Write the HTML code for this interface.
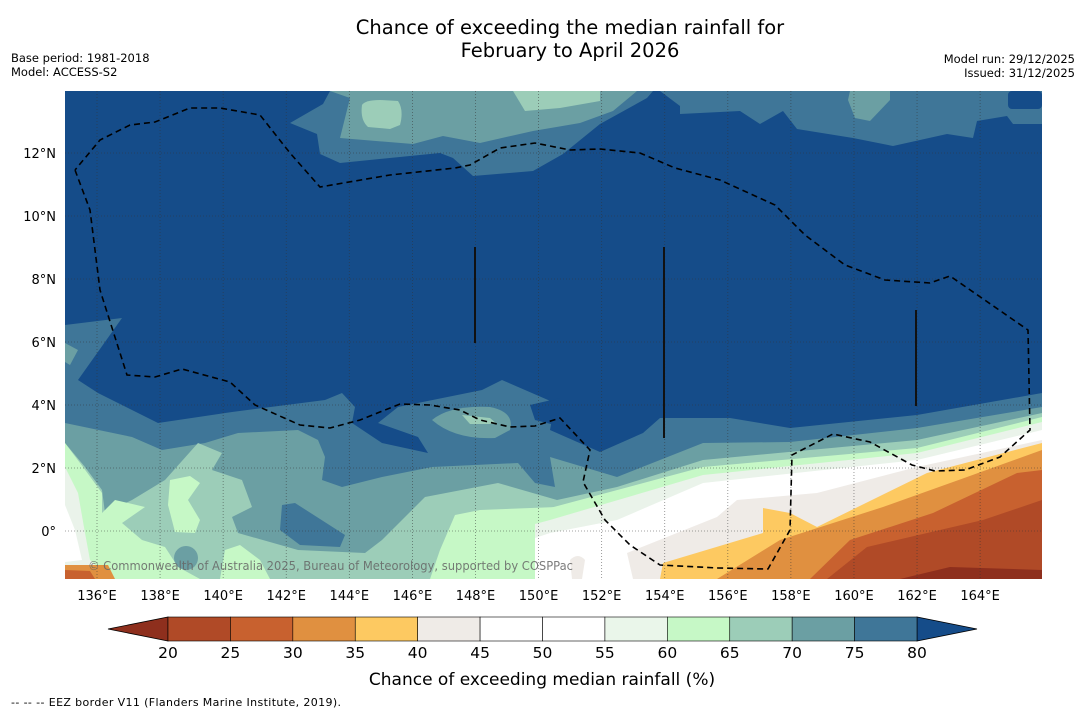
<!DOCTYPE html>
<html><head><meta charset="utf-8">
<style>
body{margin:0;background:#fff;font-family:"Liberation Sans",sans-serif;}
svg{display:block}
text{font-family:"DejaVu Sans","Liberation Sans",sans-serif;}
</style></head>
<body>
<svg id="chart" width="1085" height="713" viewBox="0 0 1085 713">
<text x="570" y="34" text-anchor="middle" font-size="19.5">Chance of exceeding the median rainfall for</text>
<text x="570" y="57" text-anchor="middle" font-size="19.5">February to April 2026</text>
<text x="11" y="62" font-size="11.5">Base period: 1981-2018</text>
<text x="11" y="76" font-size="11.5">Model: ACCESS-S2</text>
<text x="1075" y="63" font-size="11.5" text-anchor="end">Model run: 29/12/2025</text>
<text x="1075" y="77" font-size="11.5" text-anchor="end">Issued: 31/12/2025</text>
<defs><clipPath id="mapclip"><rect x="65" y="91" width="977" height="488"/></clipPath></defs>
<g id="map" clip-path="url(#mapclip)">
<rect x="65" y="91" width="977" height="488" fill="#154c89"/>
<path fill="#3f7698" d="M330,91 L323,104 290,123 317,134 320,154 340,163 440,153 453,158 473,176 533,171 563,154 600,124 647,98 653,91 660,91 680,106 680,114 740,111 760,124 783,111 797,129 853,138 893,146 947,134 973,138 977,121 1007,116 1013,124 1042,124 1042,91 Z"/>
<rect x="1008" y="91" width="34" height="18" rx="4" fill="#154c89"/>
<path fill="#6b9fa3" d="M330,91 L350,98 340,138 413,144 443,136 480,143 533,131 580,123 613,111 637,91 Z"/>
<path fill="#6b9fa3" d="M850,91 L890,91 890,100 870,121 855,118 848,100 Z"/>
<path fill="#9ccdb8" d="M362,105 Q365,100 380,100 L398,101 Q404,110 400,125 L390,129 368,127 Q360,120 362,105 Z"/>
<path fill="#9ccdb8" d="M513,91 L600,91 600,101 560,108 525,111 Z"/>
<path fill="#3f7698" d="M65,325 L122,318 78,380 98,393 158,423 232,412 325,400 342,393 355,407 352,423 382,443 428,453 418,437 378,423 398,407 482,390 502,380 555,403 550,430 600,452 643,433 660,418 730,418 790,428 917,415 1042,393 1042,579 65,579 Z"/>
<path fill="#154c89" d="M530,405 L560,398 570,415 555,425 535,420 Z"/>
<path fill="#6b9fa3" d="M65,343 L78,350 70,365 65,362 Z"/>
<path fill="#6b9fa3" d="M65,423 L132,437 162,450 205,443 238,433 298,430 318,440 325,457 322,480 342,487 382,477 432,467 518,463 535,483 555,487 550,457 617,477 703,443 790,442 917,428 1042,407 1042,579 65,579 Z"/>
<path fill="#6b9fa3" d="M432,420 Q450,405 490,407 Q515,412 510,430 L495,438 Q455,440 432,420 Z"/>
<path fill="#9ccdb8" d="M462,415 L490,418 497,424 470,424 Z"/>
<path fill="#9ccdb8" d="M65,443 L85,467 102,490 105,513 132,500 165,480 198,443 222,453 212,470 242,480 252,507 232,517 238,533 298,550 365,553 382,540 425,497 498,483 557,500 617,487 703,460 917,440 1042,413 1042,579 65,579 Z"/>
<path fill="#3f7698" d="M282,505 L295,503 345,535 340,547 300,545 280,530 Z"/>
<circle cx="186" cy="558" r="12" fill="#6b9fa3"/>
<path fill="#c6f8c6" d="M170,480 L190,476 200,483 188,500 200,520 195,533 175,532 168,505 Z"/>
<path fill="#c6f8c6" d="M65,443 L83,467 102,493 102,513 115,500 145,507 122,523 142,540 165,547 178,567 200,579 65,579 Z"/>
<path fill="#c6f8c6" d="M225,550 L240,545 260,560 270,579 220,579 Z"/>
<path fill="#c6f8c6" d="M455,515 L480,510 557,507 557,579 430,579 440,550 Z"/>
<path fill="#eaf3ea" d="M65,467 L78,493 85,533 90,560 110,579 65,579 Z"/>
<path fill="#ffffff" d="M65,505 L75,530 82,560 65,562 Z"/>
<path fill="#c6f8c6" d="M535,512 L550,508 703,467 917,448 1042,417 1042,579 535,579 Z"/>
<path fill="#eaf3ea" d="M535,524 L550,520 703,475 917,453 1042,422 1042,579 535,579 Z"/>
<path fill="#ffffff" d="M535,538 L550,533 617,520 703,483 917,460 1042,430 1042,579 535,579 Z"/>
<path fill="#efebe7" d="M633,579 L627,553 717,517 737,500 817,493 917,467 1042,440 1042,579 Z"/>
<path fill="#fdc961" d="M660,579 L663,563 763,533 763,508 790,513 817,527 927,473 1042,443 1042,579 Z"/>
<path fill="#e09040" d="M717,579 L780,540 883,507 967,477 1042,450 1042,579 Z"/>
<path fill="#c8612f" d="M810,579 L850,540 933,513 1017,473 1042,470 1042,579 Z"/>
<path fill="#b04a27" d="M827,579 L867,547 983,520 1042,500 1042,579 Z"/>
<path fill="#8e2f1d" d="M900,579 L950,567 1042,570 1042,579 Z"/>
<path fill="#efebe7" d="M570,560 Q578,552 585,560 L582,579 572,579 Z"/>
<path fill="#e09040" d="M65,565 L108,565 115,579 65,579 Z"/>
<path fill="#c8612f" d="M65,570 L90,571 95,579 65,579 Z"/>
<g id="grid" stroke="#333" stroke-width="0.8" stroke-dasharray="1,2" opacity="0.6"></g>
<path fill="none" stroke="#000" stroke-width="1.6" stroke-dasharray="6,4" d="M75,170 L90,210 100,290 127,375 155,377 182,369 230,382 255,405 300,425 330,428 360,420 400,404 430,405 460,410 480,420 510,427 535,426 560,418 590,450 583,482 605,520 630,545 660,565 718,568 768,569 790,530 792,455 833,434 870,442 912,465 935,471 965,470 1000,457 1030,430 1028,330 950,276 930,283 885,280 845,265 805,235 775,205 720,180 675,168 640,153 600,149 570,150 535,143 500,148 470,165 455,168 390,175 320,187 290,153 260,115 220,108 190,108 155,122 130,125 100,140 75,170"/>
<g stroke="#111" stroke-width="2">
<line x1="475" y1="247" x2="475" y2="343"/><line x1="664" y1="247" x2="664" y2="438"/><line x1="916" y1="310" x2="916" y2="406"/>
</g>
<text x="88" y="570" font-size="12" textLength="485" lengthAdjust="spacingAndGlyphs" fill="#666" opacity="0.85">© Commonwealth of Australia 2025, Bureau of Meteorology, supported by COSPPac</text>
</g>
<g id="xticks"></g>
<g id="ylabels"></g>
<g id="colorbar"></g>
<text x="542" y="685" text-anchor="middle" font-size="17">Chance of exceeding median rainfall (%)</text>
<text x="11" y="706" font-size="11" textLength="330">--  --  -- EEZ border V11 (Flanders Marine Institute, 2019).</text>
</svg>
<script>
const lonTicks=[136,138,140,142,144,146,148,150,152,154,156,158,160,162,164];
const latTicks=[0,2,4,6,8,10,12];
const cbLevels=[20,25,30,35,40,45,50,55,60,65,70,75,80];
const cbColors=["#b04a27","#c8612f","#e09040","#fdc961","#efebe7","#ffffff","#ffffff","#eaf6ea","#c6f8c6","#9ccdb8","#6b9fa3","#3f7698"];
const cbLow="#8e2f1d", cbHigh="#154c89";
const NS="http://www.w3.org/2000/svg";
const lonX=l=>97+(l-136)*31.54;
const latY=l=>531-l*31.5;
const cbX=v=>168+(v-20)*(749/60);
function mk(tag,attrs,parent){const e=document.createElementNS(NS,tag);for(const k in attrs)e.setAttribute(k,attrs[k]);parent.appendChild(e);return e;}
const grid=document.getElementById('grid');
lonTicks.forEach(l=>{const e=mk('line',{x1:lonX(l),x2:lonX(l),y1:91,y2:579},grid);

});
latTicks.forEach(l=>{const e=mk('line',{x1:65,x2:1042,y1:latY(l),y2:latY(l)},grid);

});
const xt=document.getElementById('xticks');
lonTicks.forEach(l=>{const t=mk('text',{x:lonX(l),y:600,'text-anchor':'middle','font-size':'13'},xt);t.textContent=l+'°E';

});
const yl=document.getElementById('ylabels');
latTicks.forEach(l=>{const t=mk('text',{x:56,y:latY(l)+5,'text-anchor':'end','font-size':'13'},yl);t.textContent=l===0?'0°':l+'°N';

});
const cb=document.getElementById('colorbar');
const y0=617,h=24;
const lo=mk('polygon',{points:`${cbX(20)},${y0} ${cbX(20)},${y0+h} ${cbX(20)-60},${y0+h/2}`,fill:cbLow,stroke:'#000','stroke-width':'0.8'},cb);


const hi=mk('polygon',{points:`${cbX(80)},${y0} ${cbX(80)},${y0+h} ${cbX(80)+60},${y0+h/2}`,fill:cbHigh,stroke:'#000','stroke-width':'0.8'},cb);


cbColors.forEach((c,i)=>{const r=mk('rect',{x:cbX(cbLevels[i]),y:y0,width:cbX(cbLevels[i+1])-cbX(cbLevels[i]),height:h,fill:c,stroke:'#000','stroke-width':'0.6'},cb);

});
cbLevels.forEach(v=>{const t=mk('text',{x:cbX(v),y:658,'text-anchor':'middle','font-size':'15.5'},cb);t.textContent=v;

});
</script>
</body></html>
